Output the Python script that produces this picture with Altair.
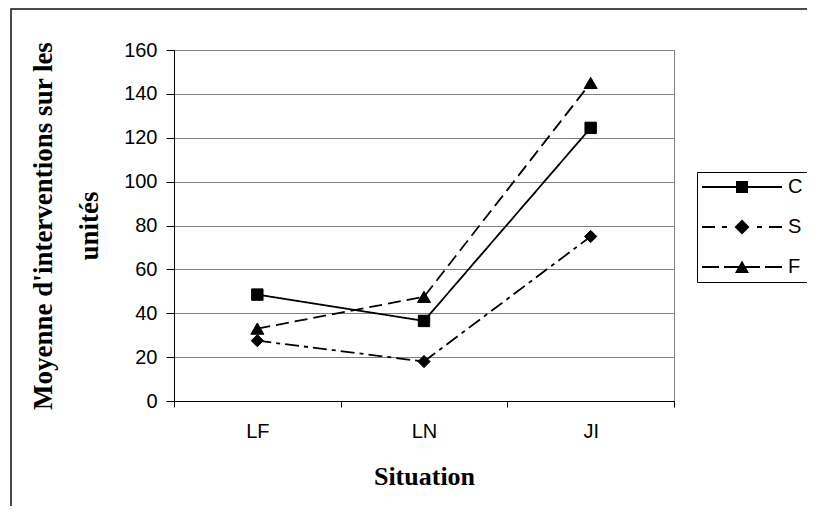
import altair as alt
import pandas as pd

# ---- data ----
situations = ["LF", "LN", "JI"]
series = ["C", "S", "F"]
values_C = [48.5, 36.5, 124.5]
values_S = [27.5, 18, 75]
values_F = [33, 47.5, 145]
y_ticks = [0, 20, 40, 60, 80, 100, 120, 140, 160]

rows = []
for s, vals in zip(series, [values_C, values_S, values_F]):
    for sit, v in zip(situations, vals):
        rows.append({"Situation": sit, "Serie": s, "Valeur": v})
df = pd.DataFrame(rows)

dashes = [[1, 0], [14, 5, 4, 5], [13, 6]]
shapes = ["square", "diamond", "triangle-up"]
marker_sizes = [130, 170, 190]

# legend symbol glyphs (filled paths, units of 10px with symbolSize=400):
# a line (solid, dash-dot or dashed) with the series marker in its middle
bar = lambda a, b: f"M{a},-0.09H{b}V0.09H{a}Z"
leg_C = bar(-1, 7.0) + "M2.4,-0.6H3.6V0.6H2.4Z"
leg_S = (bar(-1, 0.3) + bar(1.0, 1.5) + bar(4.5, 5.0) + bar(5.7, 7.0)
         + "M3.0,-0.75L3.75,0L3.0,0.75L2.25,0Z")
leg_F = (bar(-1, 0.7) + bar(1.2, 4.8) + bar(5.3, 7.0)
         + "M3.0,-0.65L3.7,0.6L2.3,0.6Z")
shape_expr = (
    "datum.value === 'C' ? '" + leg_C + "' : datum.value === 'S' ? '" + leg_S + "' : '" + leg_F + "'"
)

x_enc = alt.X(
    "Situation:N",
    sort=situations,
    bandPosition=0.5,
    scale=alt.Scale(type="band", paddingInner=0, paddingOuter=0),
    axis=alt.Axis(
        title="Situation",
        tickBand="extent",
        labelAngle=0,
        labelFont="Liberation Sans",
        labelFontSize=20,
        labelColor="black",
        labelPadding=14,
        tickSize=6,
        tickColor="black",
        domainColor="black",
        grid=False,
        titleFont="Liberation Serif",
        titleFontSize=26,
        titleFontWeight="bold",
        titleColor="black",
        titlePadding=22,
    ),
)

y_enc = alt.Y(
    "Valeur:Q",
    scale=alt.Scale(domain=[0, 160], nice=False),
    axis=alt.Axis(
        values=y_ticks,
        title=["Moyenne d'interventions sur les", "unités"],
        labelFont="Liberation Sans",
        labelFontSize=20,
        labelColor="black",
        labelPadding=9,
        tickSize=8,
        tickColor="black",
        domainColor="black",
        grid=True,
        gridColor="#808080",
        gridWidth=1,
        titleFont="Liberation Serif",
        titleFontSize=27,
        titleFontWeight="bold",
        titleColor="black",
        titleLineHeight=46,
        titlePadding=20,
    ),
)

base = alt.Chart(df)

dash_scale = alt.Scale(domain=series, range=dashes)

lines = base.mark_line(color="black", strokeWidth=1.8).encode(
    x=x_enc,
    y=y_enc,
    strokeDash=alt.StrokeDash("Serie:N", scale=dash_scale, legend=None),
)

points = base.mark_point(
    filled=True, color="black", stroke="black", strokeWidth=1, opacity=1
).encode(
    x=x_enc,
    y=y_enc,
    shape=alt.Shape("Serie:N", scale=alt.Scale(domain=series, range=shapes), legend=None),
    size=alt.Size("Serie:N", scale=alt.Scale(domain=series, range=marker_sizes), legend=None),
)

# legend-only layer (draws no marks; legend entries come from the dash scale domain)
legend_layer = base.transform_filter("false").mark_point(
    filled=True, color="black", opacity=1
).encode(
    strokeDash=alt.StrokeDash(
        "Serie:N",
        scale=dash_scale,
        legend=alt.Legend(
            title=None,
            orient="none",
            legendX=523,
            legendY=122,
            strokeColor="black",
            padding=5,
            symbolSize=400,
            symbolType={"expr": shape_expr},
            labelOffset=66,
            rowPadding=20,
            labelFont="Liberation Sans",
            labelFontSize=20,
            labelColor="black",
            symbolStrokeWidth=0,
            symbolFillColor="black",
            symbolOpacity=1,
        ),
    ),
)

frame = alt.Chart(pd.DataFrame({"k": [0]})).mark_rect(
    fillOpacity=0, stroke="#111111", strokeWidth=1.5
).encode(
    x=alt.value(-163), x2=alt.value(700), y=alt.value(-41), y2=alt.value(600)
)

chart = (
    alt.layer(frame, lines, points, legend_layer)
    .resolve_legend(strokeDash="independent")
    .properties(
        width=500,
        height=351,
        autosize=alt.AutoSizeParams(type="none"),
        padding={"left": 166, "top": 42, "right": 133, "bottom": 105},
        background="white",
    )
    .configure_view(stroke="#808080", strokeWidth=1)
)

chart.save("out.html", embed_options={"renderer": "svg", "actions": False})
